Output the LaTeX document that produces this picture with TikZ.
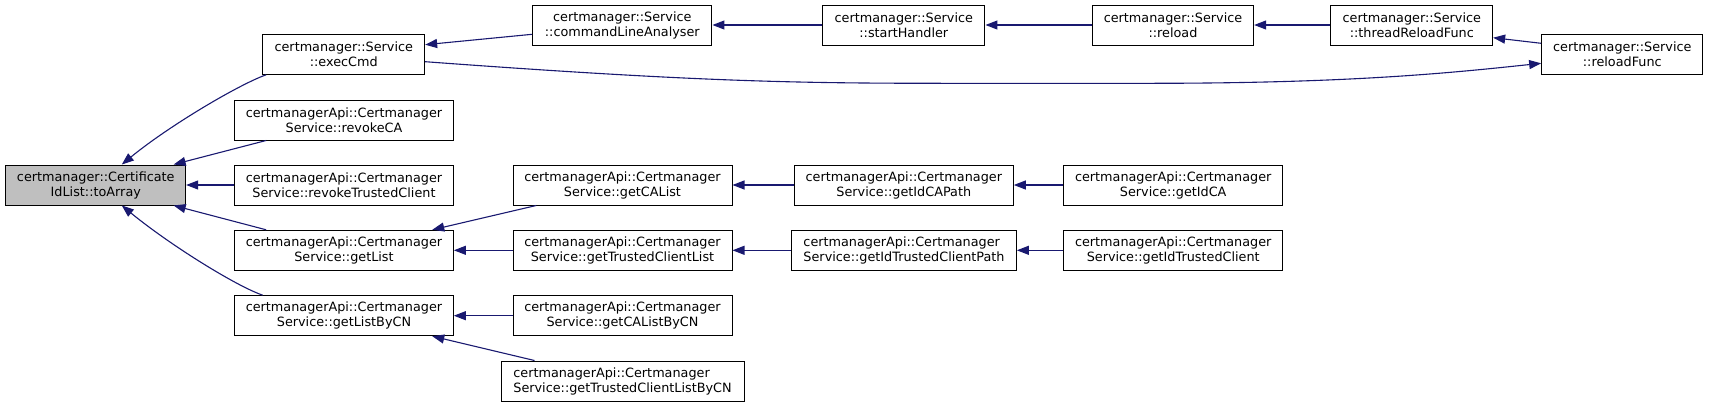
\documentclass[tikz,border=0pt]{standalone}
\usepackage{fontspec}
\newfontfamily\dejavu{DejaVu Sans}
\usetikzlibrary{arrows.meta}
\definecolor{edgeblue}{HTML}{191970}
\definecolor{hlgray}{HTML}{BFBFBF}
\tikzset{
  fn/.style={draw=black, line width=1pt, minimum height=40pt, inner sep=0pt,
    align=center, font=\dejavu\fontsize{12.8}{15}\selectfont},
  fnl/.style={fn, align=left},
  edge/.style={draw=edgeblue, line width=1.1pt, -{Triangle[length=12pt,width=9pt]}}
}
\begin{document}
\begin{tikzpicture}[x=1pt,y=-1pt]
\useasboundingbox (0,0) rectangle (1709,407);
% column 0
\node[fn, fill=hlgray, minimum width=179.7] (toArray) at (95.8,185) {certmanager::Certificate\\IdList::toArray};
% column 1
\node[fn, minimum width=161.7] (execCmd) at (343.8,54.3) {certmanager::Service\\::execCmd};
\node[fn, minimum width=218.7] (revokeCA) at (344,120) {certmanagerApi::Certmanager\\Service::revokeCA};
\node[fn, minimum width=218.7] (revokeTC) at (344,185) {certmanagerApi::Certmanager\\Service::revokeTrustedClient};
\node[fn, minimum width=218.7] (getList) at (344,250.3) {certmanagerApi::Certmanager\\Service::getList};
\node[fn, minimum width=218.7] (getListByCN) at (344,315.7) {certmanagerApi::Certmanager\\Service::getListByCN};
% column 2
\node[fn, minimum width=179.3] (cla) at (622.3,25) {certmanager::Service\\::commandLineAnalyser};
\node[fn, minimum width=219] (getCAList) at (622.5,185) {certmanagerApi::Certmanager\\Service::getCAList};
\node[fn, minimum width=219] (getTCList) at (622.5,250.3) {certmanagerApi::Certmanager\\Service::getTrustedClientList};
\node[fn, minimum width=219] (getCAListByCN) at (622.5,315.7) {certmanagerApi::Certmanager\\Service::getCAListByCN};
\node[fnl, minimum width=243] (getTCListByCN) at (622.5,381) {certmanagerApi::Certmanager\\Service::getTrustedClientListByCN};
% column 3
\node[fn, minimum width=162.3] (startHandler) at (903.8,25) {certmanager::Service\\::startHandler};
\node[fn, minimum width=219] (getIdCAPath) at (903.8,185) {certmanagerApi::Certmanager\\Service::getIdCAPath};
\node[fnl, minimum width=224.7] (getIdTCPath) at (904,250.3) {certmanagerApi::Certmanager\\Service::getIdTrustedClientPath};
% column 4
\node[fn, minimum width=161.3] (reload) at (1173,25) {certmanager::Service\\::reload};
\node[fn, minimum width=219] (getIdCA) at (1173.2,185) {certmanagerApi::Certmanager\\Service::getIdCA};
\node[fn, minimum width=219] (getIdTC) at (1173.2,250.3) {certmanagerApi::Certmanager\\Service::getIdTrustedClient};
% column 5,6
\node[fn, minimum width=161.7] (threadReload) at (1411.8,25) {certmanager::Service\\::threadReloadFunc};
\node[fn, minimum width=161.3] (reloadFunc) at (1622.3,54.3) {certmanager::Service\\::reloadFunc};
% edges into toArray
\draw[edge] ([xshift=3.7pt]execCmd.south west) .. controls (240,84) and (170,125) .. ([xshift=26pt]toArray.north);
\draw[edge] ([xshift=32pt]revokeCA.south west) -- ([xshift=-12.5pt]toArray.north east);
\draw[edge] (revokeTC.west) -- (toArray.east);
\draw[edge] ([xshift=32pt]getList.north west) -- ([xshift=-12.5pt]toArray.south east);
\draw[edge] ([xshift=28.6pt]getListByCN.north west) .. controls (236,286) and (170,245) .. ([xshift=26pt]toArray.south);
% top chain
\draw[edge] ([yshift=-9.3pt]cla.west) -- ([yshift=9.6pt]execCmd.east);
\draw[edge] (startHandler.west) -- (cla.east);
\draw[edge] (reload.west) -- (startHandler.east);
\draw[edge] (threadReload.west) -- (reload.east);
\draw[edge] ([yshift=11pt]reloadFunc.west) -- ([yshift=-12.7pt]threadReload.east);
\draw[edge] ([yshift=-7.4pt]execCmd.east) .. controls (700,82) and (800,83.3) .. (950,83.3) -- (1150,83.3) .. controls (1350,83.3) and (1450,73) .. ([yshift=-9pt]reloadFunc.west);
% lower part
\draw[edge] ([xshift=23.7pt]getCAList.south west) -- ([xshift=-21.6pt]getList.north east);
\draw[edge] (getTCList.west) -- (getList.east);
\draw[edge] (getCAListByCN.west) -- (getListByCN.east);
\draw[edge] ([xshift=34pt]getTCListByCN.north west) -- ([xshift=-21.6pt]getListByCN.south east);
\draw[edge] (getIdCAPath.west) -- (getCAList.east);
\draw[edge] (getIdTCPath.west) -- (getTCList.east);
\draw[edge] (getIdCA.west) -- (getIdCAPath.east);
\draw[edge] (getIdTC.west) -- (getIdTCPath.east);
\end{tikzpicture}
\end{document}
